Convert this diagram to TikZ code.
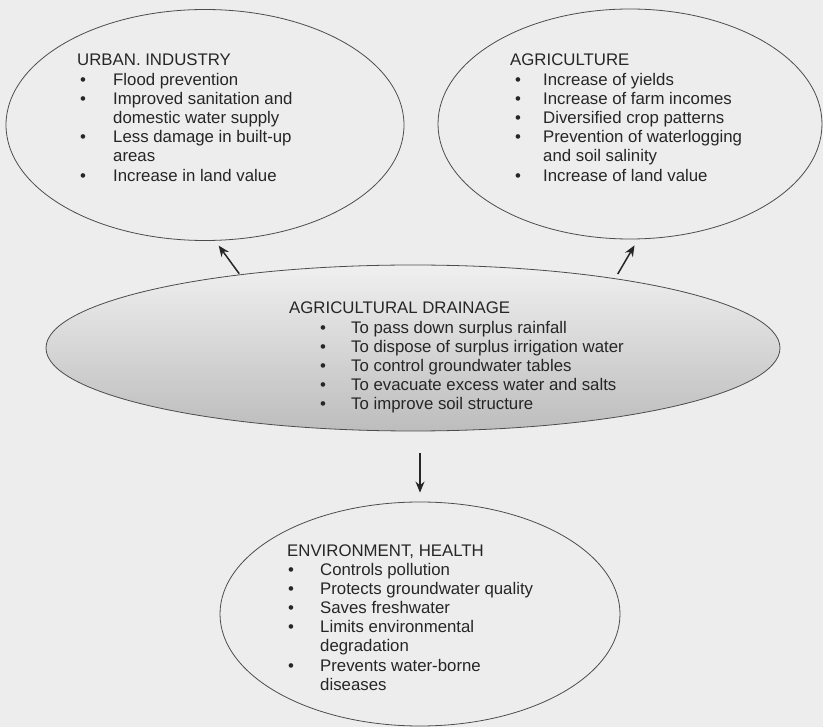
\documentclass[tikz,border=0pt]{standalone}
\usepackage{fontspec}
\setmainfont{Liberation Sans}
\usetikzlibrary{shapes.geometric, arrows.meta}

\begin{document}
\begin{tikzpicture}[x=1pt,y=-1pt,>={Stealth[length=11pt,width=9pt]},
    oval/.style={draw=black!70,ellipse,inner sep=0pt,line width=0.8pt},
    txt/.style={anchor=base west,inner sep=0pt,text=black!85,
      font=\fontsize{16.8}{19.2}\selectfont},
    link/.style={->,line width=1.5pt,draw=black!85}]
  \fill[black!7] (0,0) rectangle (823,727);
  \useasboundingbox (0,0) rectangle (823,727);

  % the four ovals
  \node[oval,minimum width=398pt,minimum height=231pt] (urban) at (205,125) {};
  \node[oval,minimum width=384pt,minimum height=230pt] (agri) at (630,124) {};
  \node[oval,minimum width=734pt,minimum height=166pt,
        top color=black!6,middle color=black!11,bottom color=black!26] (drain) at (413,348) {};
  \node[oval,minimum width=400pt,minimum height=224pt] (env) at (420,614) {};

  % texts
  \node[txt] (urbantxt) at (77,66) {\begin{tabular}[t]{@{\hspace{3pt}}p{33pt}@{}l@{}}
    \multicolumn{2}{@{}l@{}}{URBAN. INDUSTRY}\\
    \textbullet & Flood prevention\\
    \textbullet & Improved sanitation and\\
                & domestic water supply\\
    \textbullet & Less damage in built-up\\
                & areas\\
    \textbullet & Increase in land value
  \end{tabular}};
  \node[txt] (agritxt) at (510,66) {\begin{tabular}[t]{@{\hspace{5pt}}p{28pt}@{}l@{}}
    \multicolumn{2}{@{}l@{}}{AGRICULTURE}\\
    \textbullet & Increase of yields\\
    \textbullet & Increase of farm incomes\\
    \textbullet & Diversified crop patterns\\
    \textbullet & Prevention of waterlogging\\
                & and soil salinity\\
    \textbullet & Increase of land value
  \end{tabular}};
  \node[txt] (draintxt) at (289,314) {\begin{tabular}[t]{@{\hspace{31pt}}p{31pt}@{}l@{}}
    \multicolumn{2}{@{}l@{}}{AGRICULTURAL DRAINAGE}\\
    \textbullet & To pass down surplus rainfall\\
    \textbullet & To dispose of surplus irrigation water\\
    \textbullet & To control groundwater tables\\
    \textbullet & To evacuate excess water and salts\\
    \textbullet & To improve soil structure
  \end{tabular}};
  \node[txt] (envtxt) at (287,556) {\begin{tabular}[t]{@{\hspace{1pt}}p{32pt}@{}l@{}}
    \multicolumn{2}{@{}l@{}}{ENVIRONMENT, HEALTH}\\
    \textbullet & Controls pollution\\
    \textbullet & Protects groundwater quality\\
    \textbullet & Saves freshwater\\
    \textbullet & Limits environmental\\
                & degradation\\
    \textbullet & Prevents water-borne\\
                & diseases
  \end{tabular}};

  \path (drain.157) edge[link,shorten <=1pt,shorten >=6pt] (urban.-85)
        (drain.19) edge[link,shorten <=5pt,shorten >=7pt] (agri.-86)
        (drain.south -| env.north) edge[link,shorten <=22pt,shorten >=9pt] (env.north);
\end{tikzpicture}
\end{document}
